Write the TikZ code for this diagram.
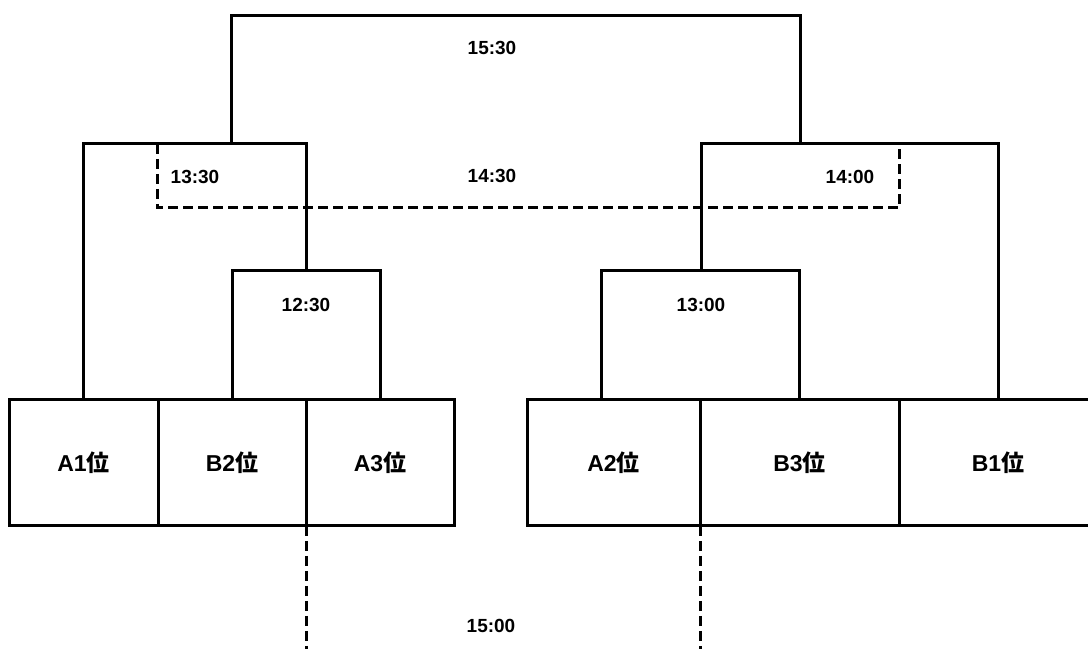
\documentclass[tikz,border=0pt]{standalone}
\usepackage{fontspec}
\setmainfont{Liberation Sans}
\newfontfamily\cjk{Noto Sans CJK JP}
\usepackage{tikz}
\usetikzlibrary{positioning,calc}

\newcommand{\rk}[1]{#1{\cjk\bfseries 位}}

\tikzset{
    team/.style={draw, line width=3pt, rectangle, minimum height=126pt, inner sep=0pt, outer sep=0pt, font=\bfseries\fontsize{23}{23}\selectfont},
    bline/.style={line width=3pt},
    dline/.style={line width=3pt, dash pattern=on 10pt off 5pt},
    time/.style={font=\bfseries\fontsize{19}{19}\selectfont, inner sep=0pt}
}

\begin{document}
\begin{tikzpicture}[x=1pt, y=1pt]
        \clip (0,0) rectangle (1088,652);

        % Draw the team boxes
        \foreach \name/\x/\w/\lab in {A1/83.5/149/A1, B2/232/148/B2, A3/380/148/A3, A2/613.5/173/A2, B3/799.5/199/B3, B1/998/198/B1} {
            \node[team, minimum width=\w pt] (\name) at (\x, 189) {\rk{\lab}};
        }

        % Free ends of the brackets
        \coordinate (A2_STEM) at (601, 252);
        \coordinate (W1230) at (306, 381);
        \coordinate (W1300) at (701, 381);
        \coordinate (W1330) at (231, 508);
        \coordinate (W1400) at (800, 508);
        \coordinate (W1530) at (500, 636);

        % Draw first round
        \draw[bline] (B2.north) |- (W1230) -| (A3.north);
        \draw[bline] (A2_STEM) |- (W1300) -| (B3.north);

        % Draw semifinals
        \draw[bline] (A1.north) |- (W1330) -| (W1230);
        \draw[bline] (W1300) |- (W1400) -| (B1.north);

        % Draw final
        \draw[bline] (W1330) |- (W1530) -| (W1400);

        % Draw third place match (dashed)
        \coordinate (D_LEFT) at (157, 508);
        \coordinate (D_RIGHT) at (899, 508);
        \coordinate (D_MID) at (500, 444);
        \draw[dline] (D_LEFT) |- (D_MID) -| (D_RIGHT);

        % Dashed lines below the boxes
        \coordinate (L_END) at (306, 3);
        \coordinate (R_END) at (700, 3);
        \draw[dline] (B2.south east) -- (L_END);
        \draw[dline] (A2.south east) -- (R_END);

        % Times
        \node[time] (T1530) at (492, 604) {15:30};
        \node[time] (T1330) at (195, 475) {13:30};
        \node[time] (T1430) at (492, 476) {14:30};
        \node[time] (T1400) at (850, 475) {14:00};
        \node[time] (T1230) at (306, 347) {12:30};
        \node[time] (T1300) at (701, 347) {13:00};
        \node[time] (T1500) at (491, 26) {15:00};

\end{tikzpicture}
\end{document}
